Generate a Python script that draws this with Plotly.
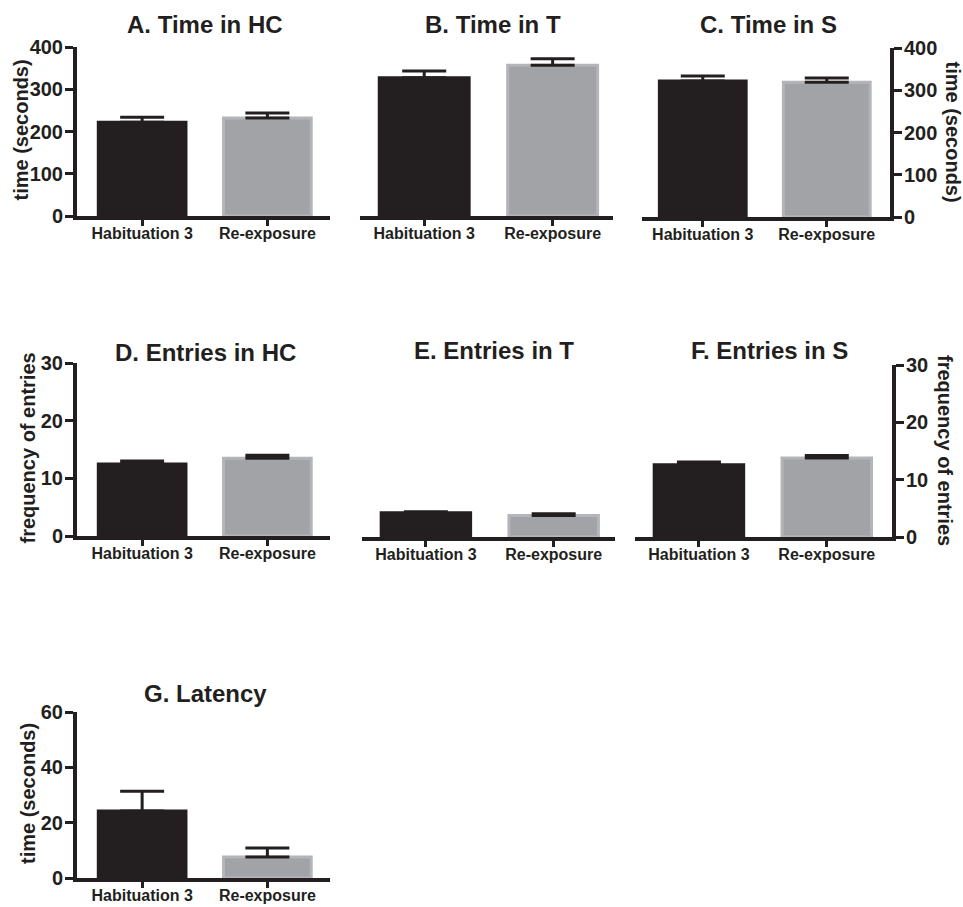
import plotly.graph_objects as go

# ---------------- data ----------------
categories = ["Habituation 3", "Re-exposure"]

titles = ["A. Time in HC", "B. Time in T", "C. Time in S",
          "D. Entries in HC", "E. Entries in T", "F. Entries in S",
          "G. Latency"]

time_hc_mean = [222, 232]
time_hc_sem = [12, 12]
time_t_mean = [327, 357]
time_t_sem = [16, 15]
time_s_mean = [322, 319]
time_s_sem = [12, 10]
entries_hc_mean = [12.5, 13.5]
entries_hc_sem = [0.5, 0.5]
entries_t_mean = [4.2, 3.7]
entries_t_sem = [0.15, 0.3]
entries_s_mean = [12.6, 13.8]
entries_s_sem = [0.5, 0.4]
latency_mean = [24.2, 7.6]
latency_sem = [7.2, 3.2]

time_ticks = [0, 100, 200, 300, 400]
entries_ticks = [0, 10, 20, 30]
latency_ticks = [0, 20, 40, 60]

time_label = "time (seconds)"
entries_label = "frequency of entries"

means = [time_hc_mean, time_t_mean, time_s_mean,
         entries_hc_mean, entries_t_mean, entries_s_mean, latency_mean]
sems = [time_hc_sem, time_t_sem, time_s_sem,
        entries_hc_sem, entries_t_sem, entries_s_sem, latency_sem]

# ---------------- layout geometry (pixels) ----------------
W, H = 963, 907
INK = "#231f20"
GRAY = "#a2a3a7"
GRAY_EDGE = "#b4b5b8"
FONT = "Liberation Sans, Arial, Helvetica, sans-serif"

# (x0, x1, ytop, ybottom, xrange, yticks, y-axis side or None, ylabel, label x, title center x, title y)
panels = [
    (77, 330, 47, 216, (-0.52, 1.50), time_ticks, "left", time_label, 20, 205, 25),
    (360, 613, 47, 216, (-0.50, 1.47), time_ticks, None, None, None, 493, 24),
    (642, 890, 48, 217, (-0.49, 1.51), time_ticks, "right", time_label, 953, 768, 24),
    (77, 330, 363, 536, (-0.52, 1.50), entries_ticks, "left", entries_label, 27, 205, 352),
    (362, 615, 363, 537, (-0.50, 1.48), entries_ticks, None, None, None, 494, 350),
    (635, 892, 365, 537, (-0.50, 1.51), entries_ticks, "right", entries_label, 945, 769, 350),
    (77, 330, 712, 878, (-0.52, 1.50), latency_ticks, "left", time_label, 28, 205, 693),
]

fig = go.Figure()
annotations = []
layout = {}

for i, (x0, x1, yt, yb, xr, yticks, side, ylab, labx, tx, ty) in enumerate(panels):
    n = "" if i == 0 else str(i + 1)
    xa, ya = "x" + n, "y" + n
    fig.add_trace(go.Bar(
        x=categories, y=means[i],
        xaxis=xa, yaxis=ya,
        width=0.7,
        marker=dict(color=[INK, GRAY], line=dict(color=[INK, GRAY_EDGE], width=3)),
        error_y=dict(type="data", array=sems[i], arrayminus=[0, 0], symmetric=False,
                     color=INK, thickness=3, width=22),
        showlegend=False, hoverinfo="x+y",
    ))
    layout["xaxis" + n] = dict(
        domain=[x0 / W, x1 / W], anchor=ya, type="category", range=list(xr),
        showline=True, linewidth=4, linecolor=INK, ticks="outside", ticklen=6,
        tickwidth=3, tickcolor=INK, showgrid=False, zeroline=False,
        ticklabelstandoff=-6,
        tickfont=dict(family=FONT, size=16, color=INK, weight="bold"),
        fixedrange=True, automargin=False,
    )
    yax = dict(
        domain=[1 - yb / H, 1 - yt / H], anchor=xa, range=[yticks[0], yticks[-1]],
        showgrid=False, zeroline=False, fixedrange=True, automargin=False,
    )
    if side is None:
        yax.update(visible=False)
    else:
        yax.update(side=side, showline=True, linewidth=4, linecolor=INK,
                   ticks="outside", ticklen=8, tickwidth=3, tickcolor=INK,
                   ticklabelstandoff=-2,
                   tickvals=yticks, ticktext=[str(v) for v in yticks],
                   tickfont=dict(family=FONT, size=20, color=INK, weight="bold"))
    layout["yaxis" + n] = yax

    annotations.append(dict(
        text=titles[i], x=tx / W, y=1 - ty / H, xref="paper", yref="paper",
        xanchor="center", yanchor="middle", showarrow=False,
        font=dict(family=FONT, size=24, color=INK, weight="bold"),
    ))
    if ylab is not None:
        annotations.append(dict(
            text=ylab, x=labx / W, y=1 - ((yt + yb) / 2 - 1) / H,
            xref="paper", yref="paper", xanchor="center", yanchor="middle",
            showarrow=False, textangle=-90 if side == "left" else 90,
            font=dict(family=FONT, size=20, color=INK, weight="bold"),
        ))

fig.update_layout(
    width=W, height=H, margin=dict(l=0, r=0, t=0, b=0, autoexpand=False),
    paper_bgcolor="white", plot_bgcolor="white",
    annotations=annotations, bargap=0.3,
    **layout,
)

fig.write_html(
    "out.html",
    config={"displayModeBar": False},
    post_script="document.body.style.margin='0';document.body.style.padding='0';"
                "document.documentElement.style.overflow='hidden';",
)
